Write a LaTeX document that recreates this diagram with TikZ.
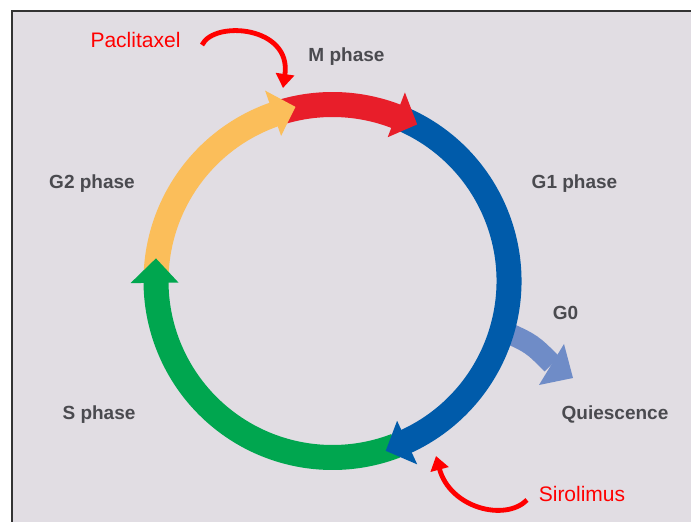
\documentclass[tikz,border=0pt]{standalone}
\usepackage{fontspec}
\setmainfont{Liberation Sans}
\usetikzlibrary{arrows.meta}
\definecolor{bg}{HTML}{E1DDE3}
\definecolor{cyellow}{HTML}{FBBE5A}
\definecolor{cred}{HTML}{E81E2A}
\definecolor{cblue}{HTML}{005BAA}
\definecolor{cgreen}{HTML}{00A64F}
\definecolor{clight}{HTML}{6F8CC7}
\definecolor{ctext}{HTML}{4A4A4F}
\definecolor{cdrug}{HTML}{FF0000}
\newcommand{\ringband}[3]{\fill[#1] (#2:189) arc[start angle=#2,end angle=#3,radius=189] -- (#3:164) arc[start angle=#3,end angle=#2,radius=164] -- cycle;}
\newcommand{\ringhead}[3]{\fill[#1] (#2:154) -- (#2:202) -- (#3:178) -- cycle;}
\begin{document}
\begin{tikzpicture}[x=1pt,y=1pt,
  phase/.style={font=\fontsize{19}{22}\selectfont\bfseries, text=ctext, anchor=base, inner sep=0pt},
  drug/.style={font=\fontsize{21}{24}\selectfont, text=cdrug, anchor=base, inner sep=0pt},
  brush/.style={draw=cdrug, line width=4.8pt, -{Triangle[length=14pt,width=18pt]}}]
\useasboundingbox (0,0) rectangle (691,522);
\fill[white] (0,0) rectangle (691,522);
\fill[bg] (11,0) rectangle (691,511);
\draw[line width=2pt, color=black!80] (11.5,0) -- (11.5,510.5) -- (691,510.5);
% G0 branch (under the ring)
\coordinate (g0start) at (506,190);
\coordinate (g0base) at (552,158);
\draw[clight, line width=21pt] (g0start) .. controls (532,178) .. (g0base);
\fill[clight] (564,178) -- (539,137) -- (573,144) -- cycle;
% ring
\begin{scope}[shift={(332.5,241)}]
\ringband{cyellow}{178}{109}
\ringband{cred}{106}{68.5}
\ringband{cblue}{66}{-66}
\ringband{cgreen}{-69}{-180}
\ringhead{cyellow}{109.5}{102}
\ringhead{cred}{69}{61.6}
\ringhead{cblue}{-65.2}{-72.6}
\ringhead{cgreen}{-179.4}{-187.3}
\end{scope}
% labels
\node[phase] (M) at (346.5,460) {M phase};
\node[phase] (G1) at (574.5,333) {G1 phase};
\node[phase] (G2) at (92,333) {G2 phase};
\node[phase] (G0) at (565.5,202) {G0};
\node[phase] (S) at (99,102) {S phase};
\node[phase] (Q) at (615,102) {Quiescence};
\node[drug] (pac) at (135.5,474) {Paclitaxel};
\node[drug] (sir) at (582,20) {Sirolimus};
% drug arrows
\coordinate (pacTail) at (202,477);
\coordinate (pacTip) at (283,434);
\coordinate (sirTail) at (527,22);
\coordinate (sirTip) at (436,66);
\draw[brush] (pacTail) .. controls (214,502) and (292,496) .. (pacTip);
\draw[brush] (sirTail) .. controls (505,0) and (450,14) .. (sirTip);
\end{tikzpicture}
\end{document}
